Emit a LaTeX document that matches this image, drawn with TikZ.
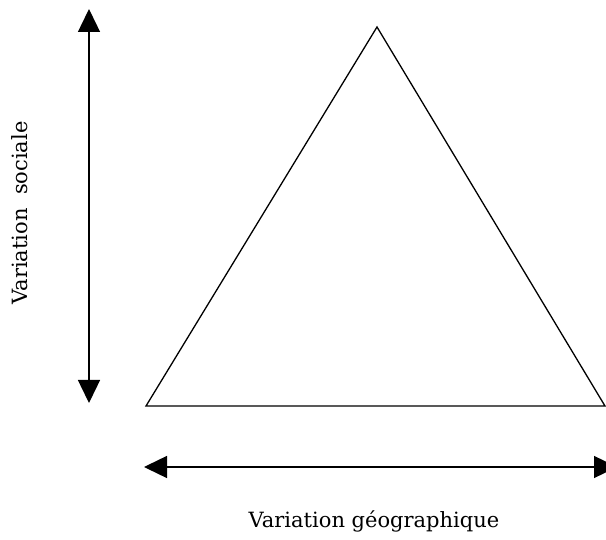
\documentclass[tikz,border=0pt]{standalone}
\usepackage{fontspec}
\setmainfont{DejaVu Serif}
\usetikzlibrary{arrows.meta, positioning}

\begin{document}
\begin{tikzpicture}[x=1pt, y=-1pt, >={Triangle[length=23pt, width=22pt]}]
    \tikzset{axe/.style={<->, line width=1.4pt, draw=black},
             lbl/.style={font=\fontsize{21}{24}\selectfont, inner sep=0pt}}
    \useasboundingbox (0,0) rectangle (606,540);

    \coordinate (apex) at (377,27);
    \coordinate (baseL) at (146,406);
    \coordinate (baseR) at (605,406);
    \draw[line width=1.3pt] (baseL) -- (apex) -- (baseR) -- cycle;

    \coordinate (socT) at (89,9);
    \coordinate (socB) at (89,403);
    \draw[axe] (socB) -- (socT);

    \coordinate (geoL) at (144,467);
    \coordinate (geoR) at (617,467);
    \draw[axe] (geoL) -- (geoR);

    \node[lbl, rotate=90] (soc) at (20,213) {Variation\ \ sociale};
    \node[lbl] (geo) at (374,521) {Variation géographique};
\end{tikzpicture}
\end{document}
